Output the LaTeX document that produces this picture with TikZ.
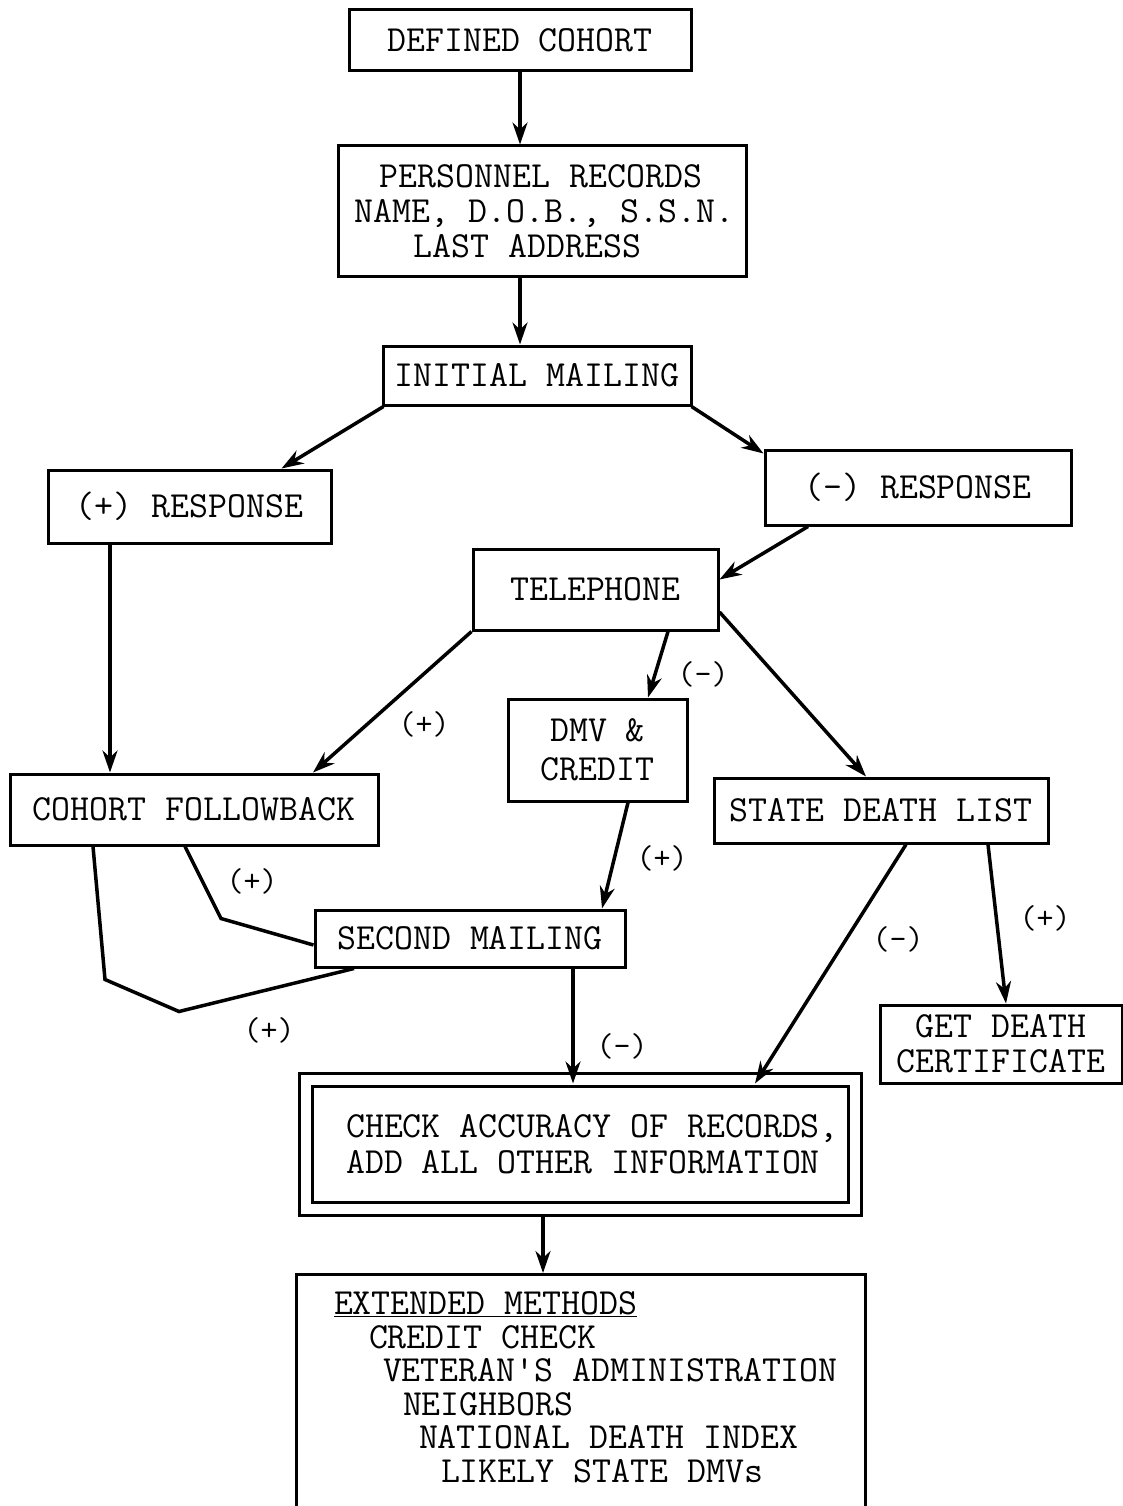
\documentclass[tikz,border=0pt]{standalone}
\usepackage{fontspec}
\usetikzlibrary{arrows.meta,positioning,calc}
\newcommand{\tw}[1]{\fontsize{36.8}{#1}\selectfont\ttfamily}

\begin{document}
\begin{tikzpicture}[
  x=1pt, y=-1pt,
  caja/.style={rectangle, draw, line width=3pt, inner sep=0pt, align=center, font=\tw{35}},
  flecha/.style={-{Stealth[length=22pt, width=15pt, inset=7pt]}, line width=3.5pt},
  linea/.style={line width=3.5pt},
  signo/.style={font=\fontsize{33}{34}\selectfont\ttfamily}
]
\useasboundingbox (0,0) rectangle (1123,1506);
\clip (0,0) rectangle (1123,1506);

\node[caja, minimum width=342pt, minimum height=61pt] (dc) at (520,40.5) {DEFINED COHORT};
\node[caja, minimum width=408pt, minimum height=130pt, align=left] (pr) at (542,211)
  {\hspace*{30pt}PERSONNEL RECORDS\\\hspace*{5pt}NAME, D.O.B., S.S.N.\\\hspace*{64pt}LAST ADDRESS};
\node[caja, minimum width=308pt, minimum height=59pt] (im) at (537,375.5) {INITIAL MAILING};
\node[caja, minimum width=283pt, minimum height=73pt] (pos) at (189.5,506.5) {(+) RESPONSE};
\node[caja, minimum width=306pt, minimum height=75pt] (neg) at (918,487.5) {(-) RESPONSE};
\node[caja, minimum width=245pt, minimum height=81pt] (tel) at (595.5,589.5) {TELEPHONE};
\node[caja, minimum width=179pt, minimum height=102pt, font=\tw{39}] (dmv) at (597.5,750) {DMV \&\\CREDIT};
\node[caja, minimum width=368pt, minimum height=71pt] (cf) at (194,809.5) {COHORT FOLLOWBACK};
\node[caja, minimum width=334pt, minimum height=65pt] (sdl) at (881,810.5) {STATE DEATH LIST};
\node[caja, minimum width=310pt, minimum height=57pt] (sm) at (470,938.5) {SECOND MAILING};
\node[caja, minimum width=242pt, minimum height=78pt] (gdc) at (1001,1044) {GET DEATH\\CERTIFICATE};
\node[caja, minimum width=549.5pt, minimum height=129pt, double, double distance=10pt, align=left, font=\tw{36}] (chk) at (580.5,1144)
  {\hspace*{24pt}CHECK ACCURACY OF RECORDS,\\\hspace*{24pt}ADD ALL OTHER INFORMATION};
\node[caja, anchor=north, minimum width=569pt, inner xsep=38pt, inner ysep=17pt, align=left, font=\tw{33.6}] (ext) at (580.5,1273)
  {\parbox[t][280pt][t]{493pt}{\underline{EXTENDED METHODS}\\
   \mbox{\hspace*{35pt}CREDIT CHECK}\\
   \mbox{\hspace*{49pt}VETERAN'S ADMINISTRATION}\\
   \mbox{\hspace*{69pt}NEIGHBORS}\\
   \mbox{\hspace*{85pt}NATIONAL DEATH INDEX}\\
   \mbox{\hspace*{107pt}LIKELY STATE DMVs}}};

% labels
\node[signo] (ldmv) at (703,674) {(-)};
\node[signo] (lcf) at (424,724) {(+)};
\node[signo] (lsm) at (662,858) {(+)};
\node[signo] (lcfa) at (252,881) {(+)};
\node[signo] (lcfb) at (269,1030) {(+)};
\node[signo] (lchk) at (622,1046) {(-)};
\node[signo] (lsdl) at (898,939) {(-)};
\node[signo] (lgdc) at (1045,918) {(+)};

% connectors
\draw[flecha] (dc.south) -- (dc.south |- pr.north);
\draw[flecha] (pr.south -| dc.south) -- (im.north -| dc.south);
\draw[flecha] ([xshift=2pt]im.south west) -- ([xshift=92pt]pos.north);
\draw[flecha] ([xshift=-1pt]im.south east) -- ([yshift=-5pt]neg.north west);
\draw[flecha] ([xshift=-110pt]neg.south) -- ([yshift=10pt]tel.east);
\draw[flecha] (tel.south west) -- ([xshift=119pt]cf.north);
\draw[flecha] ([xshift=-79.5pt]pos.south) -- ($(pos.south |- cf.north)+(-79.5,0)$);
\draw[flecha] ([xshift=72.5pt]tel.south) -- ([xshift=50.5pt]dmv.north);
\draw[flecha] ([yshift=-22.5pt]tel.east) -- ([xshift=-15pt]sdl.north);
\draw[flecha] ([xshift=30.5pt]dmv.south) -- ([xshift=132pt]sm.north);
\draw[linea] ([xshift=-9pt]cf.south) -- ++(36,72) -- ([yshift=-6.5pt]sm.west);
\draw[linea] ([xshift=-101pt]cf.south) -- ++(12,133) -- ++(74,32) -- ([xshift=-116pt]sm.south);
\draw[flecha] ([xshift=103pt]sm.south) -- ($(sm.south |- chk.north)+(103,5.5)$);
\draw[flecha] ([xshift=25pt]sdl.south) -- ($(chk.north)+(174.5,5.5)$);
\draw[flecha] ([xshift=107pt]sdl.south) -- ([xshift=5pt]gdc.north);
\draw[flecha] ($(chk.south)+(-37.5,6.5)$) -- ([xshift=-37.5pt]ext.north);
\end{tikzpicture}
\end{document}
